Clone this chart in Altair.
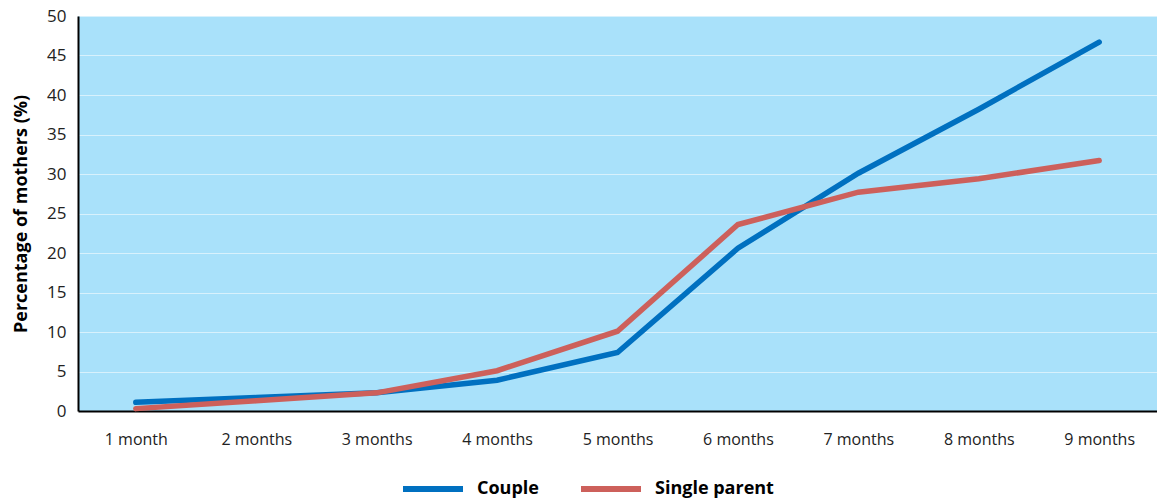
import altair as alt
import pandas as pd

months = ["1 month", "2 months", "3 months", "4 months", "5 months",
          "6 months", "7 months", "8 months", "9 months"]
couple = [1.1, 1.7, 2.3, 3.9, 7.4, 20.6, 30.1, 38.2, 46.7]
single = [0.3, 1.3, 2.3, 5.1, 10.1, 23.6, 27.7, 29.4, 31.7]
series = ["Couple", "Single parent"]
colors = ["#0070c0", "#cd605b"]

rows = []
for m, c, s in zip(months, couple, single):
    rows.append({"month": m, "value": c, "group": series[0]})
    rows.append({"month": m, "value": s, "group": series[1]})
df = pd.DataFrame(rows)

font = "Open Sans"

chart = alt.Chart(df).mark_line(strokeWidth=5.5, strokeCap="round", strokeJoin="miter").encode(
    x=alt.X("month:N", sort=months, title=None,
            scale=alt.Scale(type="point", padding=0.48),
            axis=alt.Axis(labelAngle=0, ticks=False, grid=False, domainColor="#000",
                          domainWidth=2, labelFontSize=16, labelColor="#222",
                          labelFont=font, labelPadding=20)),
    y=alt.Y("value:Q", title="Percentage of mothers (%)",
            scale=alt.Scale(domain=[0, 50], nice=False),
            axis=alt.Axis(values=list(range(0, 51, 5)), ticks=False, domainColor="#000",
                          domainWidth=2, gridColor="#d8f1fc", gridWidth=1.2,
                          labelFontSize=17, labelColor="#222", labelFont=font,
                          labelPadding=12, titleFont=font, titleFontSize=18,
                          titleFontWeight="bold", titleColor="#000", titlePadding=16)),
    color=alt.Color("group:N", scale=alt.Scale(domain=series, range=colors),
                    legend=alt.Legend(title=None, orient="none", legendX=322, legendY=440,
                                      direction="horizontal",
                                      symbolType="stroke", symbolSize=3600,
                                      symbolStrokeWidth=6, labelFont=font,
                                      labelFontSize=18, labelFontWeight="bold",
                                      labelColor="#000", columnPadding=30,
                                      labelOffset=11, labelLimit=300)),
).properties(
    width=1079, height=395,
    autosize=alt.AutoSizeParams(type="none"),
    padding={"left": 78, "top": 16, "right": 0, "bottom": 91},
).configure_view(fill="#a9e1fa", stroke=None)

chart.save("out.html", embed_options={"renderer": "svg", "actions": False})
